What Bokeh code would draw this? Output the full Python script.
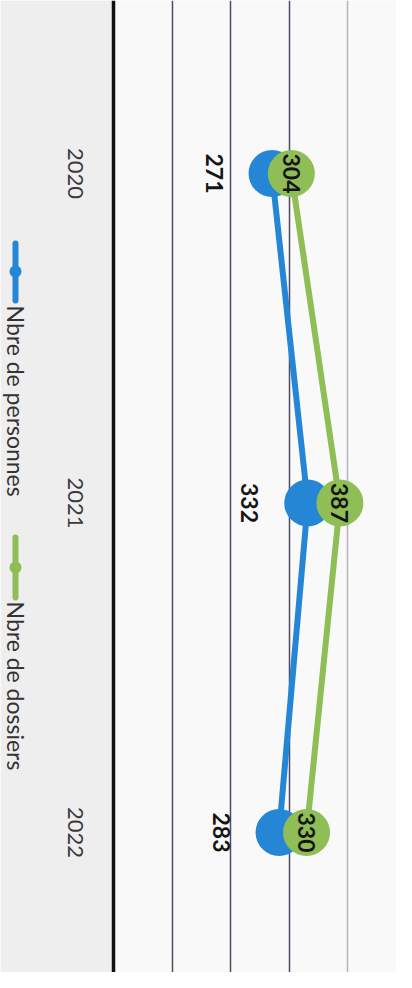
import math
from bokeh.plotting import figure
from bokeh.models import (Range1d, FixedTicker, Grid, Span, BoxAnnotation,
                          ColumnDataSource)
from bokeh.core.properties import value
from bokeh.embed import file_html
from bokeh.resources import INLINE

# ---- data ----
years = ["2020", "2021", "2022"]
personnes = [271, 332, 283]
dossiers = [304, 387, 330]
series_names = ["Nbre de personnes", "Nbre de dossiers"]
grid_dark = [100, 200, 300]
grid_light = [400]

BLUE = "#2586d6"
GREEN = "#8fbd56"
FONT = "Lato"

W, H = 396, 972
X0_PX = 113          # pixel position of value 0
PX_PER_UNIT = 0.585  # pixels per value unit
Y0_PX = 173          # pixel position of first category
PX_PER_CAT = 329.5


def dx(px):
    return (px - X0_PX) / PX_PER_UNIT


def dy(py):
    return (py - Y0_PX) / PX_PER_CAT


idx = list(range(len(years)))
src = ColumnDataSource(dict(
    y=idx, zero=[0] * len(years), year=years, p=personnes, d=dossiers,
    pl=[str(v) for v in personnes], dl=[str(v) for v in dossiers]))

p = figure(width=W, height=H, output_backend="svg", toolbar_location=None,
           x_range=Range1d(dx(0), dx(W)), y_range=Range1d(dy(H), dy(0)),
           x_axis_location=None, y_axis_location=None,
           min_border=0, background_fill_color="#f9f9f9",
           border_fill_color="#f9f9f9", outline_line_color=None)

# drop the default grids
p.center = [r for r in p.center if not isinstance(r, Grid)]

# light grey band behind the category labels / legend
p.add_layout(BoxAnnotation(right=0, fill_color="#eeeeee", fill_alpha=1,
                           line_color=None, level="underlay"))

g1 = Grid(dimension=0, ticker=FixedTicker(ticks=grid_dark),
          grid_line_color="#4d4d62", grid_line_width=1.5)
g2 = Grid(dimension=0, ticker=FixedTicker(ticks=grid_light),
          grid_line_color="#b5b5bf", grid_line_width=1.5)
p.add_layout(g1)
p.add_layout(g2)
p.add_layout(Span(location=0, dimension="height", line_color="#111111",
                  line_width=3.5))

# category labels (years) along the baseline
p.text(x="zero", y="y", text="year", source=src, x_offset=-38,
       angle=-math.pi / 2, text_align="center", text_baseline="middle",
       text_font=value(FONT), text_font_size="22px", text_color="#3a3a3a")

# series
p.line("p", "y", source=src, line_width=6, line_color=BLUE)
p.scatter("p", "y", source=src, size=47, fill_color=BLUE, line_color=None)
p.line("d", "y", source=src, line_width=6, line_color=GREEN)
p.scatter("d", "y", source=src, size=47, fill_color=GREEN, line_color=None)

lbl = dict(angle=-math.pi / 2, text_align="center", text_baseline="middle",
           text_font=value(FONT), text_font_style="bold",
           text_font_size="23px", text_color="#151515")
p.text(x="p", y="y", text="pl", source=src, x_offset=-58, **lbl)
p.text(x="d", y="y", text="dl", source=src, x_offset=0, **lbl)

# legend (rotated like the rest of the chart)
for name, col, top, bot, dot, txt in [
        (series_names[0], BLUE, 243, 300, 271, 305),
        (series_names[1], GREEN, 537, 597, 567, 601)]:
    p.line([dx(15), dx(15)], [dy(top), dy(bot)], line_color=col,
           line_width=6, line_cap="round")
    p.scatter([dx(15)], [dy(dot)], size=12, fill_color=col, line_color=None)
    p.text([dx(15)], [dy(txt)], text=[name], angle=-math.pi / 2,
           text_align="left", text_baseline="middle",
           text_font=value(FONT), text_font_size="23px",
           text_color="#333333")

open("out.html", "w").write(file_html(p, INLINE))
